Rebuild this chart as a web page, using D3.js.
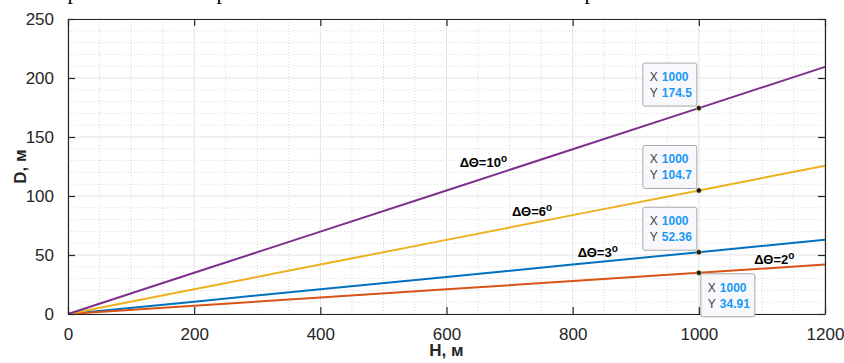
<!DOCTYPE html>
<html lang="ru">
<head>
<meta charset="utf-8">
<title>D(H)</title>
<script src="https://d3js.org/d3.v7.js"></script>
<style>
  body { margin: 0; background: #fff; }
  text { font-family: "Liberation Sans", Arial, sans-serif; }
</style>
</head>
<body>
<script>

// data
const H = [0, 200, 400, 600, 800, 1000, 1200];
const D3deg = [0, 10.47, 20.94, 31.42, 41.89, 52.36, 62.83];
const D2deg = [0, 6.98, 13.96, 20.94, 27.93, 34.91, 41.89];
const D6deg = [0, 20.94, 41.89, 62.83, 83.78, 104.7, 125.7];
const D10deg = [0, 34.91, 69.81, 104.7, 139.6, 174.5, 209.4];
const seriesNames = ["3", "2", "6", "10"];
const xTicks = [0, 200, 400, 600, 800, 1000, 1200];
const yTicks = [0, 50, 100, 150, 200, 250];

// data tips at H = 1000
const tipX = [1000, 1000, 1000, 1000];
const tipY = [52.36, 34.91, 104.7, 174.5];
const tipLabels = ["52.36", "34.91", "104.7", "174.5"];

// label anchors in data units
const labelH = [808, 1088, 704, 621];
const labelD = [48.5, 42.5, 83, 124.5];

const w = 844, h = 363;
const margin = {top: 19, right: 19, bottom: 49, left: 68};
const innerWidth = w - margin.left - margin.right;
const innerHeight = h - margin.top - margin.bottom;

const colors = ["#0072BD", "#D95319", "#EDB120", "#7E2F8E"];
const series = [D3deg, D2deg, D6deg, D10deg];

const xScale = d3.scaleLinear().domain([0, 1200]).range([0, innerWidth]);
const yScale = d3.scaleLinear().domain([0, 250]).range([innerHeight, 0]);

const svg = d3.select("body").append("svg")
    .attr("width", w)
    .attr("height", h);

// cut-off line of page text above the figure
svg.selectAll("text.cut")
  .data([73, 222, 590])
  .enter().append("text")
    .attr("class", "cut")
    .attr("x", d => d)
    .attr("y", -1)
    .attr("text-anchor", "middle")
    .style("font-family", "Liberation Serif, serif")
    .style("font-size", "22px")
    .text("р");

const g = svg.append("g")
    .attr("transform", `translate(${margin.left}, ${margin.top})`);

// minor grid (dotted)
g.append("g").selectAll("line")
  .data(d3.range(0, 1201, 50).filter(v => v % 200 !== 0))
  .enter().append("line")
    .attr("x1", d => xScale(d)).attr("x2", d => xScale(d))
    .attr("y1", 0).attr("y2", innerHeight)
    .attr("stroke", "#d8d8d8")
    .attr("stroke-dasharray", "1,2");

g.append("g").selectAll("line")
  .data(d3.range(0, 251, 10).filter(v => v % 50 !== 0))
  .enter().append("line")
    .attr("x1", 0).attr("x2", innerWidth)
    .attr("y1", d => yScale(d)).attr("y2", d => yScale(d))
    .attr("stroke", "#d8d8d8")
    .attr("stroke-dasharray", "1,2");

// major grid
g.append("g").selectAll("line")
  .data(xTicks)
  .enter().append("line")
    .attr("x1", d => xScale(d)).attr("x2", d => xScale(d))
    .attr("y1", 0).attr("y2", innerHeight)
    .attr("stroke", "#e3e3e3");

g.append("g").selectAll("line")
  .data(yTicks)
  .enter().append("line")
    .attr("x1", 0).attr("x2", innerWidth)
    .attr("y1", d => yScale(d)).attr("y2", d => yScale(d))
    .attr("stroke", "#e3e3e3");

// lines
const line = d3.line()
    .x((d, i) => xScale(H[i]))
    .y(d => yScale(d));

g.selectAll("path.series")
  .data(series)
  .enter().append("path")
    .attr("class", "series")
    .attr("d", line)
    .attr("fill", "none")
    .attr("stroke", (d, i) => colors[i])
    .attr("stroke-width", 2);

// axes (inward ticks, box)
const tickFmt = d3.format("d");
const xAxis = d3.axisBottom(xScale).tickValues(xTicks).tickFormat(tickFmt)
    .tickSizeInner(-7).tickSizeOuter(0).tickPadding(14);
const yAxis = d3.axisLeft(yScale).tickValues(yTicks).tickFormat(tickFmt)
    .tickSizeInner(-7).tickSizeOuter(0).tickPadding(14);
const xTop = d3.axisTop(xScale).tickValues(xTicks)
    .tickSizeInner(-7).tickSizeOuter(0);
const yRight = d3.axisRight(yScale).tickValues(yTicks)
    .tickSizeInner(-7).tickSizeOuter(0);

function style(sel) {
  sel.selectAll("path, line").attr("stroke", "#262626").attr("stroke-width", 1.2);
  sel.selectAll("text").attr("fill", "#262626")
     .style("font-size", "17px").style("font-family", "Liberation Sans, Arial, sans-serif");
}

g.append("g").attr("transform", `translate(0, ${innerHeight})`).call(xAxis).call(style);
g.append("g").call(yAxis).call(style);
g.append("g").call(xTop).call(style).selectAll("text").remove();
g.append("g").attr("transform", `translate(${innerWidth}, 0)`).call(yRight).call(style)
    .selectAll("text").remove();

// axis labels
svg.append("text")
    .attr("x", margin.left + innerWidth / 2)
    .attr("y", 356)
    .attr("text-anchor", "middle")
    .style("font-size", "17px")
    .style("font-weight", "bold")
    .attr("fill", "#262626")
    .text("H, м");

svg.append("text")
    .attr("transform", `translate(26, ${margin.top + innerHeight / 2}) rotate(-90)`)
    .attr("text-anchor", "middle")
    .style("font-size", "17px")
    .style("font-weight", "bold")
    .attr("fill", "#262626")
    .text("D, м");

// line labels
const lbl = g.selectAll("text.lbl")
  .data(seriesNames)
  .enter().append("text")
    .attr("class", "lbl")
    .attr("x", (d, i) => xScale(labelH[i]))
    .attr("y", (d, i) => yScale(labelD[i]))
    .style("font-size", "13px")
    .style("font-weight", "bold")
    .attr("fill", "#000");
lbl.append("tspan").text(d => "ΔΘ=" + d);
lbl.append("tspan").attr("dy", -5).style("font-size", "10px").text("o");

// data tips
const tips = g.selectAll("g.tip")
  .data(tipY)
  .enter().append("g")
    .attr("class", "tip")
    .attr("transform", (d, i) => {
      const px = xScale(tipX[i]), py = yScale(d);
      // the 2° tip sits below-right of its point, others above-left
      return i === 1 ? `translate(${px + 2}, ${py + 1})` : `translate(${px - 56}, ${py - 45})`;
    });

tips.append("rect")
    .attr("width", 54).attr("height", 43)
    .attr("rx", 2)
    .attr("fill", "#f8f8fc")
    .attr("stroke", "#a8a8a8");

tips.append("text").attr("x", 7).attr("y", 18)
    .style("font-size", "12px").attr("fill", "#404040").text("X");
tips.append("text").attr("x", 19).attr("y", 18)
    .style("font-size", "12px").style("font-weight", "bold").attr("fill", "#1a98f5")
    .text((d, i) => tipX[i]);
tips.append("text").attr("x", 7).attr("y", 34)
    .style("font-size", "12px").attr("fill", "#404040").text("Y");
tips.append("text").attr("x", 19).attr("y", 34)
    .style("font-size", "12px").style("font-weight", "bold").attr("fill", "#1a98f5")
    .text((d, i) => tipLabels[i]);

g.selectAll("circle.tipdot")
  .data(tipY)
  .enter().append("circle")
    .attr("class", "tipdot")
    .attr("cx", (d, i) => xScale(tipX[i]))
    .attr("cy", d => yScale(d))
    .attr("r", 2.6)
    .attr("fill", "#1a1a1a")
    .attr("stroke", "#e8e0a0")
    .attr("stroke-width", 0.6);

</script>
</body>
</html>
